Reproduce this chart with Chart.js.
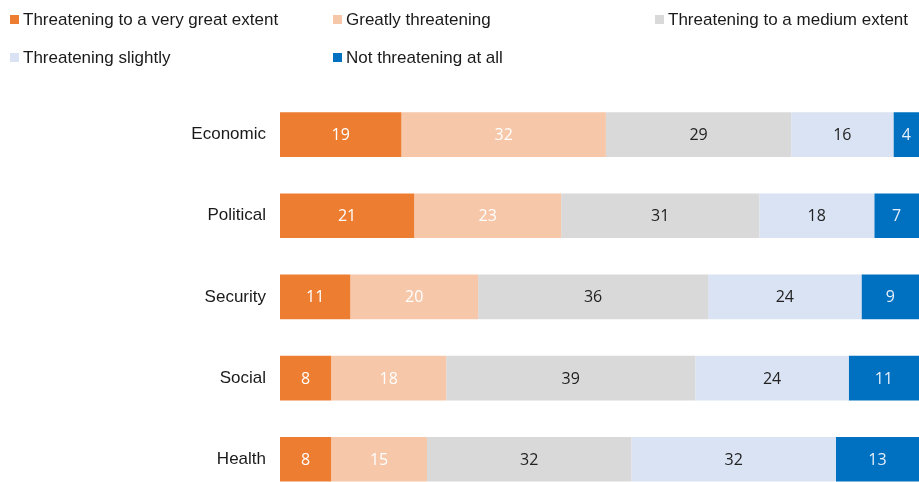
<!DOCTYPE html>
<html>
<head>
<meta charset="utf-8">
<script src="https://cdn.jsdelivr.net/npm/chart.js@4"></script>
<style>
  html, body { margin: 0; padding: 0; background: #fff; overflow: hidden; }
  canvas { display: block; }
</style>
</head>
<body>
<canvas id="threatChart" width="919" height="524"></canvas>
<script>
const categories = ['Economic', 'Political', 'Security', 'Social', 'Health'];
const seriesNames = [
  'Threatening to a very great extent',
  'Greatly threatening',
  'Threatening to a medium extent',
  'Threatening slightly',
  'Not threatening at all'
];
const veryGreat = [19, 21, 11, 8, 8];
const greatly   = [32, 23, 20, 18, 15];
const medium    = [29, 31, 36, 39, 32];
const slightly  = [16, 18, 24, 24, 32];
const notAtAll  = [4, 7, 9, 11, 13];

const colors     = ['#ED7D31', '#F6C7A8', '#D9D9D9', '#DAE3F3', '#0070C0'];
const textColors = ['#ffffff', '#ffffff', '#222222', '#222222', '#e6f0fa'];

// legend drawn by hand, items sit in fixed columns like the original
const legendPlugin = {
  id: 'gridLegend',
  afterDraw(chart) {
    const ctx = chart.ctx;
    const spots = [[10, 19], [333, 19], [655, 19], [10, 57], [333, 57]];
    ctx.save();
    ctx.font = '17px "Liberation Sans", Arial, sans-serif';
    ctx.textBaseline = 'middle';
    ctx.textAlign = 'left';
    chart.data.datasets.forEach((ds, i) => {
      const [x, y] = spots[i];
      ctx.fillStyle = ds.backgroundColor;
      ctx.fillRect(x, y - 4, 9, 9);
      ctx.fillStyle = '#1a1a1a';
      ctx.fillText(ds.label, x + 13, y + 1);
    });
    ctx.restore();
  }
};

const valueLabels = {
  id: 'valueLabels',
  afterDatasetsDraw(chart) {
    const ctx = chart.ctx;
    ctx.save();
    ctx.font = '16px "Open Sans", "DejaVu Sans", sans-serif';
    ctx.textAlign = 'center';
    ctx.textBaseline = 'middle';
    chart.data.datasets.forEach((ds, i) => {
      const meta = chart.getDatasetMeta(i);
      meta.data.forEach((bar, j) => {
        const cx = (bar.x + bar.base) / 2;
        ctx.fillStyle = textColors[i];
        ctx.fillText(ds.data[j], cx, bar.y + 1);
      });
    });
    ctx.restore();
  }
};

const series = [veryGreat, greatly, medium, slightly, notAtAll];

new Chart(document.getElementById('threatChart'), {
  type: 'bar',
  data: {
    labels: categories,
    datasets: series.map((vals, i) => ({
      label: seriesNames[i],
      data: vals,
      backgroundColor: colors[i],
      borderWidth: 0,
      barPercentage: 0.55,
      categoryPercentage: 1
    }))
  },
  options: {
    indexAxis: 'y',
    responsive: false,
    animation: false,
    layout: { padding: { top: 94, right: 0, bottom: 0, left: 0 } },
    plugins: {
      legend: { display: false },
      tooltip: { enabled: false }
    },
    scales: {
      x: {
        stacked: true,
        min: 0,
        max: 100,
        display: false
      },
      y: {
        stacked: true,
        grid: { display: false, drawTicks: false },
        border: { display: false },
        ticks: {
          color: '#1a1a1a',
          padding: 14,
          font: { family: '"Liberation Sans", Arial, sans-serif', size: 17 }
        },
        afterFit(scale) { scale.width = 280; }
      }
    }
  },
  plugins: [legendPlugin, valueLabels]
});
</script>
</body>
</html>
